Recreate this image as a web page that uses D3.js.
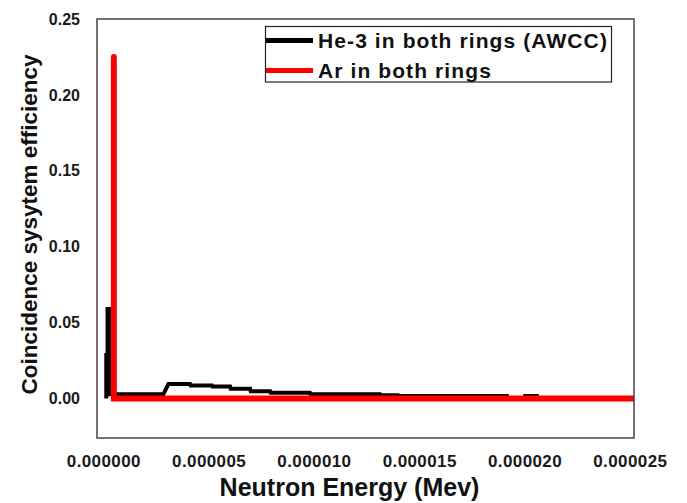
<!DOCTYPE html>
<html>
<head>
<meta charset="utf-8">
<script src="https://cdn.jsdelivr.net/npm/d3@7/dist/d3.min.js"></script>
<style>
  html, body { margin: 0; padding: 0; background: #fff; }
  svg { display: block; font-family: "Liberation Sans", Arial, sans-serif; }
</style>
</head>
<body>
<svg id="chart" width="687" height="503"></svg>
<script>
// He-3 detector response (neutron energy in MeV, coincidence efficiency)
const heEnergy = [0.14e-6, 0.14e-6, 0.20e-6, 0.20e-6, 0.27e-6, 0.27e-6, 2.85e-6, 3.09e-6,
  4.12e-6, 4.15e-6, 5.16e-6, 5.19e-6, 6.02e-6, 6.05e-6, 6.97e-6, 7.00e-6, 7.92e-6, 7.95e-6,
  9.81e-6, 9.84e-6, 13.14e-6, 13.17e-6, 14.00e-6, 14.03e-6, 19.17e-6, 19.20e-6, 20.00e-6,
  20.03e-6, 20.60e-6, 20.63e-6, 25.2e-6];
const heEff = [0, 0.0286, 0.0286, 0.059, 0.059, 0.0028, 0.0028, 0.0095,
  0.0095, 0.0086, 0.0086, 0.0079, 0.0079, 0.0064, 0.0064, 0.0048, 0.0048, 0.0038,
  0.0038, 0.0028, 0.0028, 0.0021, 0.0021, 0.0016, 0.0016, 0, 0,
  0.0016, 0.0016, 0, 0];

// Ar detector response
const arEnergy = [0.50e-6, 0.50e-6, 25.2e-6];
const arEff = [0.225, 0, 0];

const xTicks = [0, 0.000005, 0.00001, 0.000015, 0.00002, 0.000025];
const xTickLabels = ["0.000000", "0.000005", "0.000010", "0.000015", "0.000020", "0.000025"];
const yTicks = [0, 0.05, 0.10, 0.15, 0.20, 0.25];
const yTickLabels = ["0.00", "0.05", "0.10", "0.15", "0.20", "0.25"];

const seriesNames = ["He-3 in both rings (AWCC)", "Ar in both rings"];
const seriesColors = ["#000000", "#ff0000"];

const svg = d3.select("#chart");
const plot = { left: 97, right: 634, top: 19, bottom: 438 };

const x = d3.scaleLinear().domain([-0.3e-6, 25.2e-6]).range([plot.left, plot.right]);
const y = d3.scaleLinear().domain([-0.026, 0.25]).range([plot.bottom, plot.top]);

svg.append("defs").append("clipPath").attr("id", "plotClip")
  .append("rect")
  .attr("x", plot.left).attr("y", plot.top - 10)
  .attr("width", plot.right - plot.left).attr("height", plot.bottom - plot.top + 10);

// Axes (labels only, no tick marks)
const yAxis = d3.axisLeft(y).tickValues(yTicks).tickSize(0).tickPadding(17)
  .tickFormat((d, i) => yTickLabels[i]);
const gy = svg.append("g").attr("transform", `translate(${plot.left},0)`).call(yAxis);
gy.select(".domain").remove();
gy.selectAll("text")
  .attr("font-size", 16).attr("font-weight", "bold").attr("fill", "#1a1a1a")
  .attr("font-family", "'Liberation Sans', Arial, sans-serif");

const xAxis = d3.axisBottom(x).tickValues(xTicks).tickSize(0).tickPadding(17)
  .tickFormat((d, i) => xTickLabels[i]);
const gx = svg.append("g").attr("transform", `translate(0,${plot.bottom})`).call(xAxis);
gx.select(".domain").remove();
gx.selectAll("text")
  .attr("font-size", 17).attr("font-weight", "bold").attr("fill", "#1a1a1a")
  .attr("letter-spacing", 0.4)
  .attr("font-family", "'Liberation Sans', Arial, sans-serif");

// Axis titles
svg.append("text")
  .attr("x", (plot.left + plot.right) / 2 - 16).attr("y", 496)
  .attr("text-anchor", "middle")
  .attr("font-size", 25).attr("font-weight", "bold").attr("fill", "#111")
  .text("Neutron Energy (Mev)");

svg.append("text")
  .attr("transform", `translate(37,${(plot.top + plot.bottom) / 2 - 4}) rotate(-90)`)
  .attr("text-anchor", "middle")
  .attr("font-size", 22.5).attr("font-weight", "bold").attr("fill", "#111")
  .text("Coincidence sysytem efficiency");

// Series lines
const line = d3.line().x(d => x(d[0])).y(d => y(d[1]));
const gLines = svg.append("g").attr("clip-path", "url(#plotClip)");

gLines.append("path")
  .datum(heEnergy.map((e, i) => [e, heEff[i]]))
  .attr("d", line)
  .attr("fill", "none")
  .attr("stroke", seriesColors[0])
  .attr("stroke-width", 4)
  .attr("stroke-linejoin", "miter");

gLines.append("path")
  .datum(arEnergy.map((e, i) => [e, arEff[i]]))
  .attr("d", line)
  .attr("fill", "none")
  .attr("stroke", seriesColors[1])
  .attr("stroke-width", 6)
  .attr("stroke-linecap", "round")
  .attr("stroke-linejoin", "miter");

// Plot frame
svg.append("rect")
  .attr("x", plot.left).attr("y", plot.top)
  .attr("width", plot.right - plot.left).attr("height", plot.bottom - plot.top)
  .attr("fill", "none").attr("stroke", "#444").attr("stroke-width", 1.5);

// Legend
const legend = svg.append("g");
legend.append("rect")
  .attr("x", 265.5).attr("y", 26.5).attr("width", 346).attr("height", 55.5)
  .attr("fill", "#fff").attr("stroke", "#222").attr("stroke-width", 1.2);

const legendRows = [40.5, 70.5];
seriesNames.forEach((name, i) => {
  legend.append("line")
    .attr("x1", 266).attr("x2", 313)
    .attr("y1", legendRows[i]).attr("y2", legendRows[i])
    .attr("stroke", seriesColors[i]).attr("stroke-width", 5);
  legend.append("text")
    .attr("x", 318).attr("y", legendRows[i] + 7.5)
    .attr("font-size", 21).attr("font-weight", "bold").attr("fill", "#111")
    .attr("letter-spacing", 1.1)
    .text(name);
});
</script>
</body>
</html>
